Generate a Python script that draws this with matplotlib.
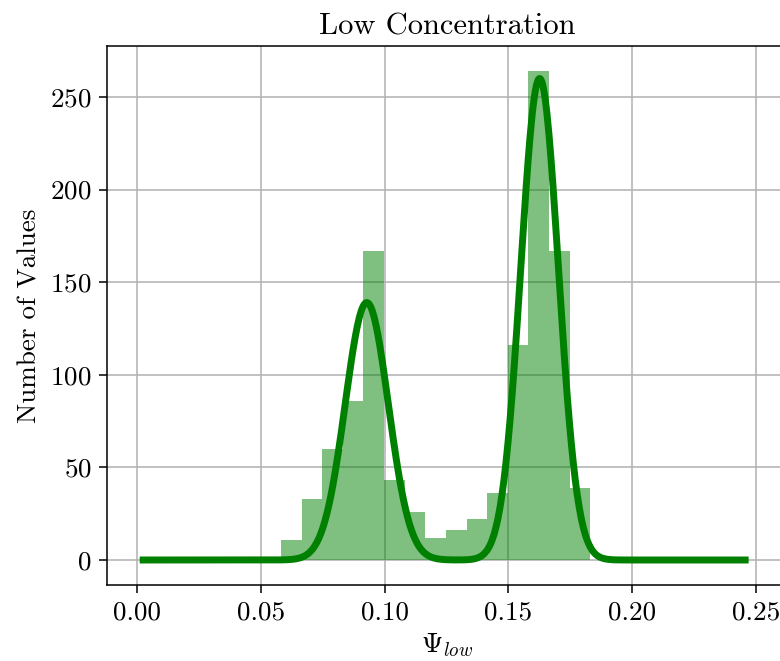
import numpy as np
import matplotlib
matplotlib.use("Agg")
from matplotlib import pyplot as plt

plt.rcParams['font.family'] = 'serif'
plt.rcParams['font.serif'] = ['cmr10']
plt.rcParams['mathtext.fontset'] = 'cm'
plt.rcParams['axes.formatter.use_mathtext'] = True

# histogram
bin_lo = 0.0582
bin_hi = 0.1830
counts = [11, 33, 60, 86, 167, 43, 26, 12, 16, 22, 36, 116, 264, 167, 39]

# fitted two-gaussian curve (amplitude, mean, sigma)
amps = [139, 260]
means = [0.0928, 0.1626]
sigmas = [0.0087, 0.0076]
x_lo, x_hi = 0.0025, 0.2456

edges = np.linspace(bin_lo, bin_hi, len(counts) + 1)
xs = np.linspace(x_lo, x_hi, 600)
fit = sum(a * np.exp(-(xs - m)**2 / (2 * s**2)) for a, m, s in zip(amps, means, sigmas))

fig = plt.figure(figsize=(7.8, 6.61), dpi=100)
ax = fig.add_axes([107/780, 76/661, 680/780, 539/661])

ax.bar(edges[:-1], counts, width=np.diff(edges), align='edge', color='green', alpha=0.5, zorder=2)
ax.plot(xs, fit, color='green', lw=5, zorder=3)

ax.set_xlim(-0.0121, 0.2625)
ax.set_ylim(-13.5, 277.5)
ax.set_xticks([0.0, 0.05, 0.10, 0.15, 0.20, 0.25])
ax.set_xticklabels(['0.00', '0.05', '0.10', '0.15', '0.20', '0.25'])
ax.set_yticks([0, 50, 100, 150, 200, 250])
ax.grid(True, color='#b0b0b0', lw=1.1, zorder=0)
ax.set_axisbelow(True)
for sp in ax.spines.values():
	sp.set_linewidth(1.1)
ax.tick_params(labelsize=19.5, length=6, width=1.1, pad=5)

ax.set_title('Low Concentration', fontsize=22, pad=8)
ax.set_ylabel('Number of Values', fontsize=19.5, labelpad=6)
ax.set_xlabel(r'$\Psi_{low}$', fontsize=19.5, labelpad=5)

fig.savefig('out.png', dpi=100)
